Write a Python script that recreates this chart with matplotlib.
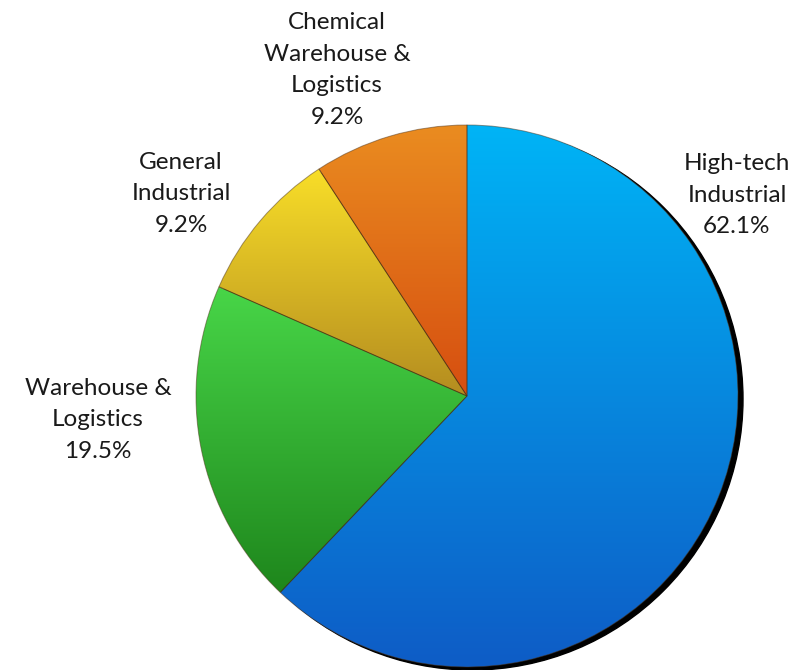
import numpy as np
import matplotlib
matplotlib.use("Agg")
import matplotlib.pyplot as plt
from matplotlib.colors import LinearSegmentedColormap

categories = ["High-tech\nIndustrial", "Warehouse &\nLogistics", "General\nIndustrial", "Chemical\nWarehouse &\nLogistics"]
values = [62.1, 19.5, 9.2, 9.2]
top_colors = ["#00B4F6", "#48D648", "#F8DE28", "#EA8C20"]
bottom_colors = ["#0E5CC6", "#1E861C", "#B48C20", "#D64E10"]
label_pos = [(737, 475), (98, 250), (181, 476), (337, 600)]

W, H = 800, 670
fig = plt.figure(figsize=(W / 100, H / 100), dpi=100)
ax = fig.add_axes([0, 0, 1, 1])
ax.set_xlim(0, W)
ax.set_ylim(0, H)
ax.axis("off")

cx, cy, R = 467, 274, 271

# shadow
shadow = plt.Circle((cx + 5, cy - 3), R, color="black", zorder=1)
ax.add_patch(shadow)

wedges, _ = ax.pie(values, startangle=90, counterclock=False, center=(cx, cy),
                   radius=R, frame=True,
                   wedgeprops=dict(edgecolor=(0.3, 0.2, 0.1, 0.5), linewidth=0.7, zorder=3))

grad = np.linspace(1, 0, 256).reshape(-1, 1)
for w, tc, bc in zip(wedges, top_colors, bottom_colors):
    w.set_facecolor("none")
    t = np.radians(np.linspace(w.theta1, w.theta2, 200))
    ys = np.concatenate([[cy], cy + R * np.sin(t)])
    xs = np.concatenate([[cx], cx + R * np.cos(t)])
    cmap = LinearSegmentedColormap.from_list("g", [bc, tc])
    im = ax.imshow(grad, cmap=cmap, aspect="auto", origin="upper",
                   extent=(xs.min(), xs.max(), ys.min(), ys.max()), zorder=2,
                   interpolation="bilinear")
    im.set_clip_path(w)

for lab, v, (x, y) in zip(categories, values, label_pos):
    ax.text(x, y, f"{lab}\n{v:.1f}%", ha="center", va="center", fontsize=17.5,
            family="Lato", linespacing=1.62, color="#1a1a1a")

ax.set_xlim(0, W)
ax.set_ylim(0, H)
ax.set_aspect("equal")
fig.savefig("out.png", dpi=100)
